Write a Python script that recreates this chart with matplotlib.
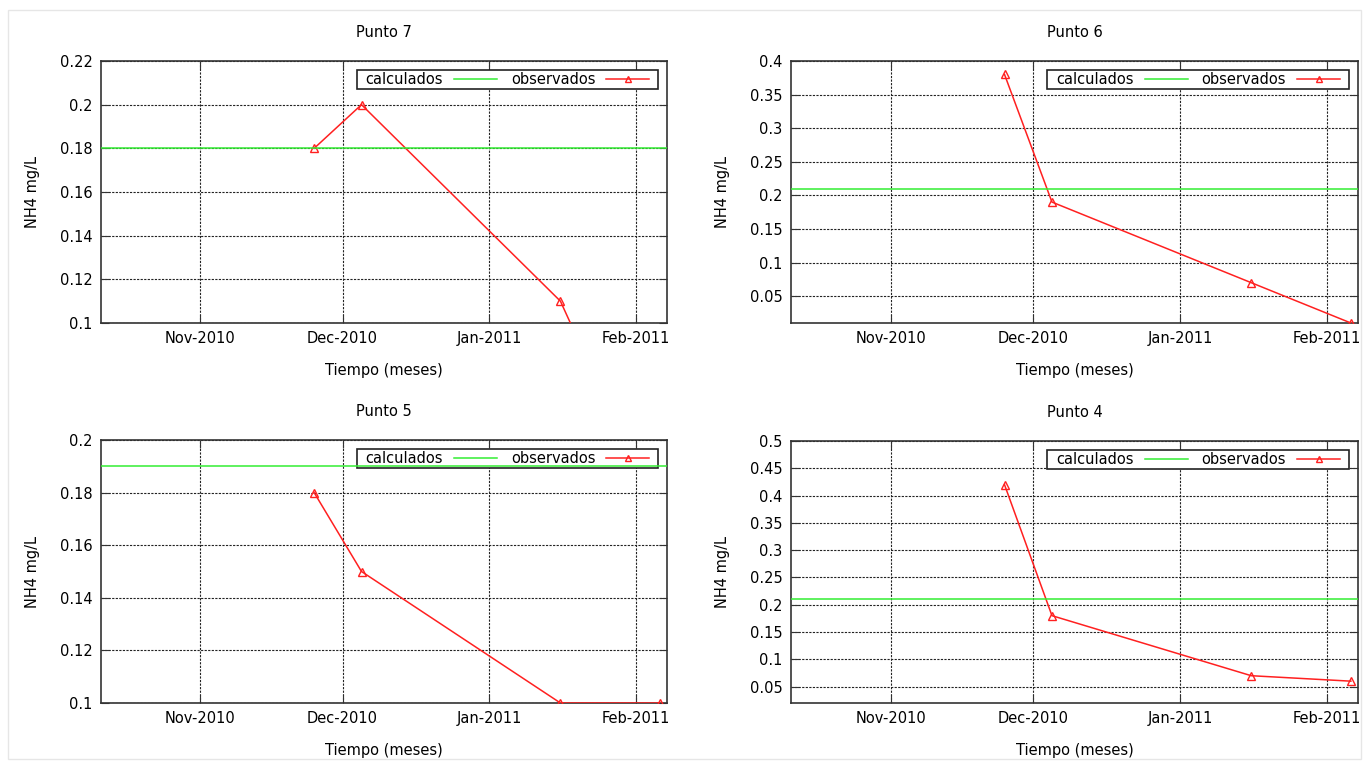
import matplotlib
matplotlib.use('Agg')
import matplotlib.pyplot as plt
import matplotlib.dates as mdates
from matplotlib.patches import Rectangle
from matplotlib.ticker import FuncFormatter, MultipleLocator
from datetime import datetime

# fechas de muestreo
fechas = [datetime(2010, 11, 25), datetime(2010, 12, 5),
          datetime(2011, 1, 16), datetime(2011, 2, 6)]

titulos = ['Punto 7', 'Punto 6', 'Punto 5', 'Punto 4']
calculados = [0.18, 0.21, 0.19, 0.21]
obs_p7 = [0.18, 0.20, 0.11, 0.01]
obs_p6 = [0.38, 0.19, 0.07, 0.01]
obs_p5 = [0.18, 0.15, 0.10, 0.10]
obs_p4 = [0.42, 0.18, 0.07, 0.06]
observados = [obs_p7, obs_p6, obs_p5, obs_p4]

ylims = [(0.1, 0.22), (0.01, 0.4), (0.1, 0.2), (0.02, 0.5)]
ysteps = [0.02, 0.05, 0.02, 0.05]

xmin = datetime(2010, 10, 11)
xmax = datetime(2011, 2, 7, 12)

W, H = 1365, 761
fig = plt.figure(figsize=(W / 100, H / 100), dpi=100)
plt.rcParams['font.family'] = ['DejaVu Sans']

# marco gris claro alrededor de la imagen
fig.patches.append(Rectangle((8 / W, 2 / H), 1353 / W, 749 / H, transform=fig.transFigure,
                             fill=False, edgecolor='#e6e6e6', linewidth=1))

# posiciones de los ejes en pixeles: izquierda, derecha, arriba, abajo
cajas = [(101, 667, 61, 323), (791, 1358, 61, 323),
         (101, 667, 440, 703), (791, 1358, 441, 703)]

fmt = FuncFormatter(lambda v, p: '%g' % round(v, 4))

for i in range(4):
    l, r, t, b = cajas[i]
    ax = fig.add_axes([l / W, 1 - b / H, (r - l) / W, (b - t) / H])

    ax.axhline(calculados[i], color='#33ee33', linewidth=1.1, zorder=7, label='calculados')
    ax.plot(fechas, observados[i], color='#ff2020', linewidth=1.1, marker='^',
            markersize=6, markerfacecolor='none', markeredgecolor='#ff2020',
            markeredgewidth=1, label='observados', zorder=4)

    ax.set_xlim(xmin, xmax)
    ax.set_ylim(*ylims[i])
    ax.yaxis.set_major_locator(MultipleLocator(ysteps[i]))
    ax.yaxis.set_major_formatter(fmt)
    ax.xaxis.set_major_locator(mdates.MonthLocator())
    ax.xaxis.set_major_formatter(mdates.DateFormatter('%b-%Y'))

    ax.grid(True, color='#222222', linestyle=(0, (2, 1.2)), linewidth=0.8)
    ax.tick_params(direction='in', top=True, right=True, length=6, labelsize=10.5,
                   pad=6, color='#333333')
    for s in ax.spines.values():
        s.set_linewidth(1.2)
        s.set_color('#333333')

    ax.set_title(titulos[i], fontsize=10.5, pad=17)
    ax.set_xlabel('Tiempo (meses)', fontsize=10.5, labelpad=12)
    ax.set_ylabel('NH4 mg/L', fontsize=10.5, labelpad=14)

    # caja de la leyenda al estilo gnuplot
    kx0, kx1, ky0, ky1 = 0.452, 0.984, 0.893, 0.966
    ax.add_patch(Rectangle((kx0, ky0), kx1 - kx0, ky1 - ky0, transform=ax.transAxes,
                           facecolor='white', edgecolor='#222222', linewidth=1.2,
                           zorder=5))
    leg = ax.legend(loc='center', bbox_to_anchor=((kx0 + kx1) / 2, (ky0 + ky1) / 2),
                    ncol=2, markerfirst=False, fontsize=10.5, frameon=False,
                    handlelength=2.95, handletextpad=0.75, columnspacing=0.96,
                    borderpad=0, borderaxespad=0, markerscale=0.8)
    leg.set_zorder(6)

fig.savefig('out.png', dpi=100)
